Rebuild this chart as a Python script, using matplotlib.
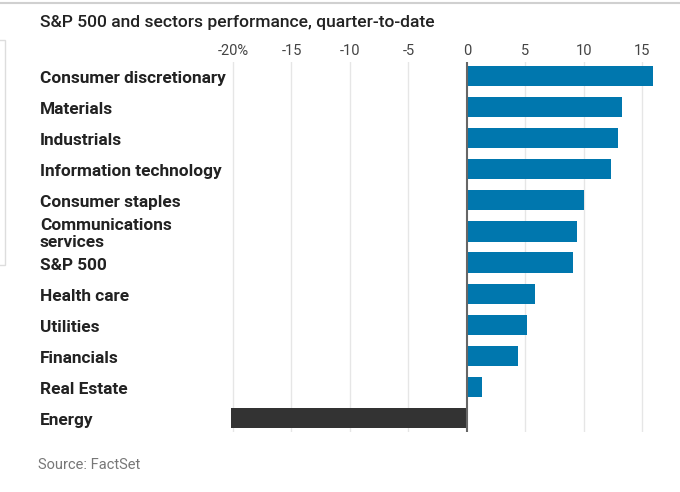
import matplotlib
matplotlib.use("Agg")
import matplotlib.pyplot as plt
import matplotlib.transforms as mtransforms
from matplotlib.patches import Rectangle
from matplotlib.lines import Line2D

categories = ["Consumer discretionary", "Materials", "Industrials",
              "Information technology", "Consumer staples",
              "Communications\nservices", "S&P 500", "Health care",
              "Utilities", "Financials", "Real Estate", "Energy"]
values = [15.9, 13.25, 12.95, 12.35, 10.0, 9.4, 9.1, 5.8, 5.15, 4.4, 1.3, -20.2]
xticks = [-20, -15, -10, -5, 0, 5, 10, 15]
xticklabels = ["-20%", "-15", "-10", "-5", "0", "5", "10", "15"]

W, H = 680, 492
fig = plt.figure(figsize=(W / 100, H / 100), dpi=100)

x0px, x1px = 221.3, 660.0
y0px, y1px = 62.0, 432.0
ax = fig.add_axes([x0px / W, 1 - y1px / H, (x1px - x0px) / W, (y1px - y0px) / H])

n = len(categories)
pos = list(range(n))
colors = ["#0077AE" if v >= 0 else "#333333" for v in values]
ax.barh(pos, values, height=0.65, color=colors, edgecolor="none", zorder=3)

ax.set_xlim(-21, 16.5)
ax.set_ylim(n - 1 + 0.45, -0.45)

for t in xticks:
    if t == 0:
        ax.axvline(t, color="#666666", lw=1.5, zorder=4)
    else:
        ax.axvline(t, color="#e6e6e6", lw=1, zorder=1)

for s in ax.spines.values():
    s.set_visible(False)
ax.set_yticks([])
ax.set_xticks(xticks)
ax.set_xticklabels(xticklabels)
ax.xaxis.tick_top()
ax.tick_params(axis="x", length=0, pad=3, labelsize=10.5, labelcolor="#444444")
for lab in ax.get_xticklabels():
    lab.set_family(["Roboto", "DejaVu Sans"])

trans = mtransforms.blended_transform_factory(fig.transFigure, ax.transData)
for i, c in enumerate(categories):
    ax.text(40 / W, i + 0.08, c, transform=trans, ha="left", va="center",
            fontsize=12.4, fontweight="bold", color="#222222",
            family=["Roboto", "DejaVu Sans"], linespacing=1.1)

fig.text(40 / W, 1 - 22 / H, "S&P 500 and sectors performance, quarter-to-date",
         ha="left", va="center", fontsize=12.6, fontweight="medium",
         color="#222222", family=["Roboto", "DejaVu Sans"])
fig.text(38 / W, 1 - 465 / H, "Source: FactSet", ha="left", va="center",
         fontsize=10.5, color="#777777",
         family=["Roboto", "DejaVu Sans"])

fig.add_artist(Line2D([0, 1], [1 - 3 / H, 1 - 3 / H], transform=fig.transFigure,
                      color="#d0d0d0", lw=1.5))
fig.add_artist(Rectangle((-2 / W, 1 - 265 / H), 7 / W, 225 / H,
                         transform=fig.transFigure, fill=False,
                         edgecolor="#dddddd", lw=1))

fig.savefig("out.png", dpi=100)
